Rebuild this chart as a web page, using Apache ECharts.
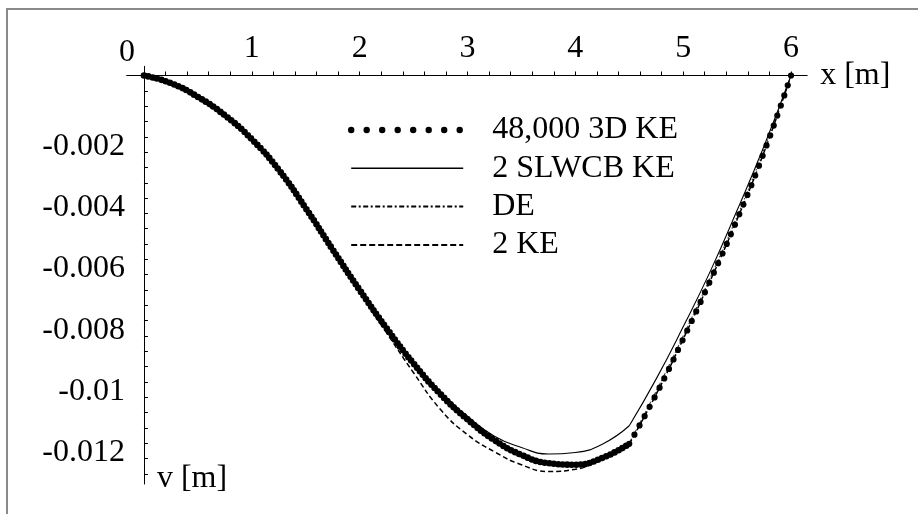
<!DOCTYPE html>
<html>
<head>
<meta charset="utf-8">
<script src="https://cdn.jsdelivr.net/npm/echarts@6/dist/echarts.min.js"></script>
<style>
  html, body { margin: 0; padding: 0; background: #fff; }
  #chart { width: 918px; height: 514px; }
</style>
</head>
<body>
<div id="chart"></div>
<script>
// ---- data ----
const xs = [0, 0.25, 0.5, 0.75, 1.0, 1.25, 1.5, 1.75, 2.0, 2.25, 2.5, 2.75, 3.0,
            3.25, 3.5, 3.75, 4.0, 4.25, 4.5, 4.75, 5.0, 5.25, 5.5, 5.75, 6.0];

const ke3d = [0, -0.00025, -0.0007, -0.0013, -0.00208, -0.00308, -0.00433, -0.00568, -0.0070,
              -0.00825, -0.0094, -0.0104, -0.01122, -0.0119, -0.01238, -0.01265, -0.0127,
              -0.01248, -0.01202, -0.0104, -0.0086, -0.0067, -0.0047, -0.0025, 0];

const slwcb = [0, -0.00025, -0.0007, -0.00128, -0.00204, -0.0030, -0.00425, -0.0056, -0.00692,
               -0.00817, -0.00932, -0.01032, -0.01112, -0.01177, -0.01214, -0.01235, -0.0123,
               -0.01203, -0.01143, -0.0099, -0.0082, -0.0064, -0.0044, -0.0023, 0];

const de = [0, -0.00025, -0.0007, -0.0013, -0.00207, -0.00306, -0.0043, -0.00565, -0.00698,
            -0.00824, -0.0094, -0.0104, -0.01122, -0.0119, -0.01238, -0.01265, -0.0127,
            -0.01248, -0.0120, -0.0103, -0.0085, -0.0066, -0.0046, -0.0024, 0];

const ke2 = [0, -0.00025, -0.0007, -0.0013, -0.00208, -0.0031, -0.00436, -0.00572, -0.00708,
             -0.0084, -0.0097, -0.0109, -0.01172, -0.01228, -0.0127, -0.01292, -0.01285,
             -0.0125, -0.01202, -0.0104, -0.0086, -0.0067, -0.0047, -0.0025, 0];

const seriesNames = ['48,000 3D KE', '2 SLWCB KE', 'DE', '2 KE'];
const xTickLabels = [0, 1, 2, 3, 4, 5, 6];
const yTickValues = [-0.012, -0.01, -0.008, -0.006, -0.004, -0.002];
const yTickLabels = ['-0.012', '-0.01', '-0.008', '-0.006', '-0.004', '-0.002'];

// ---- build ----
const KINK = 18; // index of x = 4.5
function seg(ys, from, to) {
  const out = [];
  for (let i = from; i <= to; i++) out.push([xs[i], ys[i]]);
  return out;
}
const xMinor = [];
for (let i = 0; i <= 30; i++) xMinor.push(+(i * 0.2).toFixed(2));
const yMinor = [];
for (let i = 0; i <= 26; i++) yMinor.push(+(-i * 0.0005).toFixed(4));

const FONT = "'Liberation Serif', 'Times New Roman', serif";

function lineSeries(name, ys, style1, style2) {
  const last = xs.length - 1;
  return [
    { name, type: 'line', data: seg(ys, 0, KINK), smooth: true, symbol: 'none',
      itemStyle: { color: '#000' }, lineStyle: style1, silent: true },
    { name, type: 'line', data: seg(ys, KINK, last), smooth: true, symbol: 'none',
      itemStyle: { color: '#000' }, lineStyle: style2 || style1, silent: true }
  ];
}

const series = [].concat(
  lineSeries(seriesNames[2], de, { color: '#444', width: 1.2, type: [5, 2, 1.5, 2] }),
  lineSeries(seriesNames[3], ke2, { color: '#000', width: 1.5, type: [5, 3] }),
  lineSeries(seriesNames[1], slwcb, { color: '#000', width: 1.1 }),
  lineSeries(seriesNames[0], ke3d,
    { color: '#000', width: 6.6, type: [0, 4.5], cap: 'round' },
    { color: '#000', width: 6.2, type: [0, 10.6], cap: 'round' })
);

const hiddenSymbol = { color: 'transparent', opacity: 0, borderWidth: 0 };

const chart = echarts.init(document.getElementById('chart'), null, { renderer: 'canvas' });
chart.setOption({
  animation: false,
  backgroundColor: '#fff',
  grid: { left: 126.7, right: 110.8, top: 66.3, bottom: 30, containLabel: false, outerBoundsMode: 'none' },
  legend: {
    orient: 'vertical',
    left: 348, top: 111,
    padding: 0,
    itemWidth: 112, itemHeight: 14, itemGap: 0.3,
    selectedMode: false,
    textStyle: { fontFamily: FONT, fontSize: 32, color: '#000', lineHeight: 38, padding: [0, 0, 0, 24] },
    data: [
      { name: seriesNames[0], itemStyle: hiddenSymbol, lineStyle: { color: '#000', width: 6.4, type: [0, 15.5], cap: 'round' } },
      { name: seriesNames[1], itemStyle: hiddenSymbol, lineStyle: { color: '#000', width: 1.6, type: 'solid' } },
      { name: seriesNames[2], itemStyle: hiddenSymbol, lineStyle: { color: '#000', width: 2, type: [5, 2.5, 2, 2.5] } },
      { name: seriesNames[3], itemStyle: hiddenSymbol, lineStyle: { color: '#000', width: 2, type: [6, 3] } }
    ]
  },
  xAxis: {
    type: 'value', position: 'top', min: -0.16, max: 6.15,
    axisLine: { onZero: true, lineStyle: { color: '#000', width: 1 } },
    axisTick: { show: true, inside: false, length: 4, customValues: xMinor, lineStyle: { color: '#000' } },
    axisLabel: {
      customValues: xTickLabels, margin: -2.5,
      formatter: v => (Math.abs(v) < 1e-9 ? '{z|0}' : '{n|' + Math.round(v) + '}'),
      rich: {
        n: { fontFamily: FONT, fontSize: 32, color: '#000', padding: [0, 0, 4.5, 0] },
        z: { fontFamily: FONT, fontSize: 32, color: '#000', padding: [0, 34, 0, 0] }
      }
    },
    splitLine: { show: false },
    name: 'x [m]', nameLocation: 'end', nameGap: 13,
    nameTextStyle: { fontFamily: FONT, fontSize: 32, color: '#000', verticalAlign: 'middle', align: 'left' }
  },
  yAxis: {
    type: 'value', min: -0.01333, max: 0.0003,
    axisLine: { onZero: true, lineStyle: { color: '#000', width: 1 } },
    axisTick: { show: true, inside: true, length: 4, customValues: yMinor, lineStyle: { color: '#000' } },
    axisLabel: {
      customValues: yTickValues, margin: 1.7,
      fontFamily: FONT, fontSize: 32, color: '#000',
      verticalAlign: 'top', lineHeight: 19,
      formatter: v => {
        for (let i = 0; i < yTickValues.length; i++) {
          if (Math.abs(yTickValues[i] - v) < 1e-7) return yTickLabels[i];
        }
        return '';
      }
    },
    splitLine: { show: false },
    name: 'v [m]', nameLocation: 'start', nameGap: -5,
    nameTextStyle: { fontFamily: FONT, fontSize: 32, color: '#000', align: 'left', verticalAlign: 'middle', padding: [0, 0, 0, 13] }
  },
  graphic: [
    { type: 'line', shape: { x1: 6, y1: 9, x2: 918, y2: 9 }, style: { stroke: '#8a8a8a', lineWidth: 2 }, silent: true },
    { type: 'line', shape: { x1: 7, y1: 8, x2: 7, y2: 514 }, style: { stroke: '#8a8a8a', lineWidth: 2 }, silent: true }
  ],
  series
});
</script>
</body>
</html>
